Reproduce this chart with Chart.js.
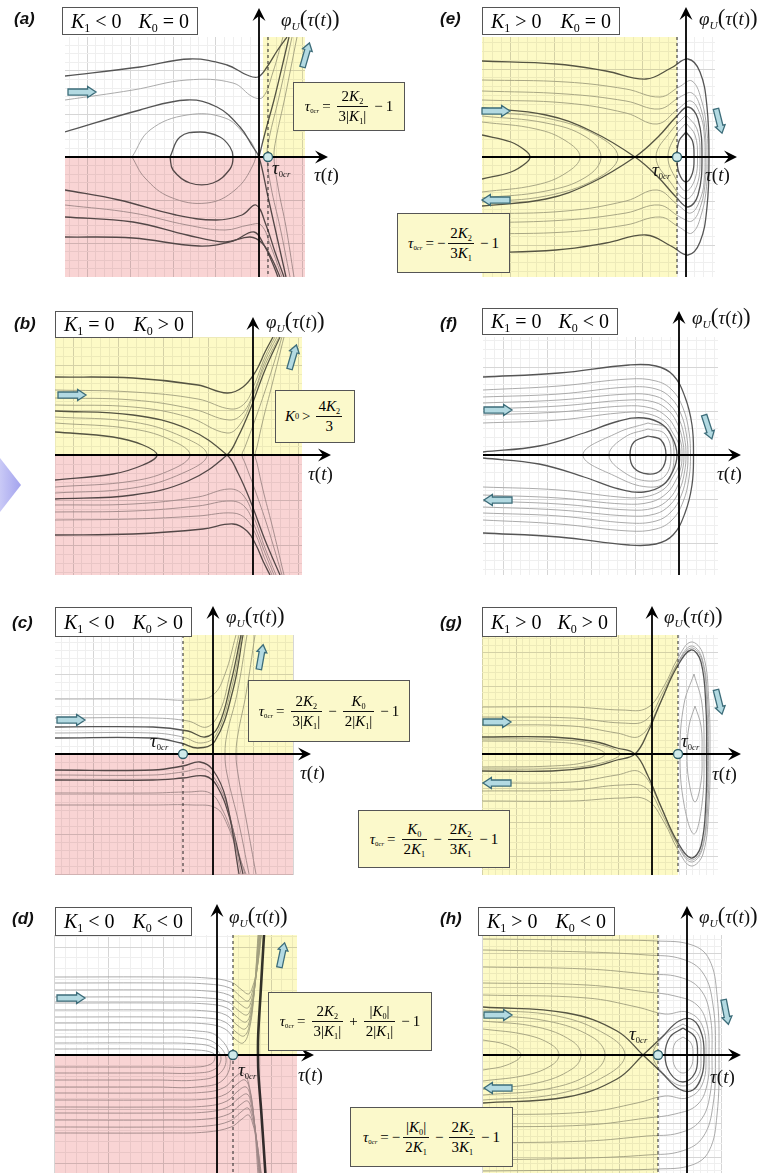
<!DOCTYPE html>
<html>
<head>
<meta charset="utf-8">
<script src="https://cdn.jsdelivr.net/npm/chart.js@4.4.1/dist/chart.umd.min.js"></script>
<style>
body { margin: 0; background: #fff; }
#page { position: relative; width: 777px; height: 1173px; overflow: hidden; }
canvas { position: absolute; left: 0; top: 0; }
.t { position: absolute; white-space: nowrap; font-family: "Liberation Serif", "DejaVu Serif", serif; color: #111; }
.let { position: absolute; font: bold italic 17px "Liberation Sans", Arial, sans-serif; color: #111; }
.cond { position: absolute; box-sizing: border-box; border: 1.5px solid #555; background: #fff;
  font: 20px "Liberation Serif", serif; display: flex; align-items: center; justify-content: space-between; padding: 0 8px; }
.fbox { position: absolute; box-sizing: border-box; border: 1.5px solid #555; background: #fbf9cb;
  font: 15px "Liberation Serif", serif; display: flex; align-items: center; justify-content: center; white-space: nowrap; }
sub { font-size: 0.6em; vertical-align: -0.35em; line-height: 0; }
.fbox sub { font-size: 0.55em; }
.tc sub { font-size: 0.45em; }
.fr { display: inline-flex; flex-direction: column; vertical-align: middle; text-align: center; margin: 0 3px; }
.fr > span { padding: 0 2px; line-height: 19px; }
.fr > span + span { border-top: 1px solid #111; }
.op { margin: 0 3px; }
.bp { font-size: 1.2em; }
.tri { position: absolute; left: 0; top: 458px; width: 21px; height: 54px;
  clip-path: polygon(0 0, 100% 50%, 0 100%); background: linear-gradient(to right, #c9c9f6, #a3a3ee); }
</style>
</head>
<body>
<div id="page">
<canvas id="ca" width="777" height="1173"></canvas>
<canvas id="ce" width="777" height="1173"></canvas>
<canvas id="cb" width="777" height="1173"></canvas>
<canvas id="cf" width="777" height="1173"></canvas>
<canvas id="cc" width="777" height="1173"></canvas>
<canvas id="cg" width="777" height="1173"></canvas>
<canvas id="cd" width="777" height="1173"></canvas>
<canvas id="ch" width="777" height="1173"></canvas>

<div class="tri"></div>

<!-- (a) -->
<div class="let" style="left:14px;top:9px">(a)</div>
<div class="cond" style="left:62px;top:7px;width:136px;height:28px"><span><i>K</i><sub>1</sub> &lt; 0</span><span><i>K</i><sub>0</sub> = 0</span></div>
<div class="t" style="left:281px;top:6px;font-size:19px"><i>φ</i><sub><i>U</i></sub><span class="bp">(</span><i>τ</i>(<i>t</i>)<span class="bp">)</span></div>
<div class="t" style="left:314px;top:164px;font-size:19px"><i>τ</i>(<i>t</i>)</div>
<div class="t tc" style="left:272px;top:157px;font-size:19px"><i>τ</i><sub>0<i>cr</i></sub></div>
<div class="fbox" style="left:293px;top:82px;width:112px;height:49px"><span class="tc"><i>τ</i><sub>0<i>cr</i></sub></span><span class="op">=</span><span class="fr"><span>2<i>K</i><sub>2</sub></span><span>3|<i>K</i><sub>1</sub>|</span></span><span class="op">−</span>1</div>

<!-- (e) -->
<div class="let" style="left:440px;top:9px">(e)</div>
<div class="cond" style="left:482px;top:7px;width:138px;height:28px"><span><i>K</i><sub>1</sub> &gt; 0</span><span><i>K</i><sub>0</sub> = 0</span></div>
<div class="t" style="left:699px;top:5px;font-size:19px"><i>φ</i><sub><i>U</i></sub><span class="bp">(</span><i>τ</i>(<i>t</i>)<span class="bp">)</span></div>
<div class="t" style="left:705px;top:164px;font-size:19px"><i>τ</i>(<i>t</i>)</div>
<div class="t tc" style="left:652px;top:159px;font-size:19px"><i>τ</i><sub>0<i>cr</i></sub></div>
<div class="fbox" style="left:397px;top:213px;width:113px;height:60px"><span class="tc"><i>τ</i><sub>0<i>cr</i></sub></span><span class="op">=</span>−<span class="fr"><span>2<i>K</i><sub>2</sub></span><span>3<i>K</i><sub>1</sub></span></span><span class="op">−</span>1</div>

<!-- (b) -->
<div class="let" style="left:14px;top:314px">(b)</div>
<div class="cond" style="left:55px;top:311px;width:138px;height:27px"><span><i>K</i><sub>1</sub> = 0</span><span><i>K</i><sub>0</sub> &gt; 0</span></div>
<div class="t" style="left:266px;top:308px;font-size:19px"><i>φ</i><sub><i>U</i></sub><span class="bp">(</span><i>τ</i>(<i>t</i>)<span class="bp">)</span></div>
<div class="t" style="left:308px;top:463px;font-size:19px"><i>τ</i>(<i>t</i>)</div>
<div class="fbox" style="left:275px;top:390px;width:80px;height:53px"><i>K</i><sub>0</sub><span class="op">&gt;</span><span class="fr"><span>4<i>K</i><sub>2</sub></span><span>3</span></span></div>

<!-- (f) -->
<div class="let" style="left:440px;top:314px">(f)</div>
<div class="cond" style="left:482px;top:308px;width:136px;height:27px"><span><i>K</i><sub>1</sub> = 0</span><span><i>K</i><sub>0</sub> &lt; 0</span></div>
<div class="t" style="left:692px;top:304px;font-size:19px"><i>φ</i><sub><i>U</i></sub><span class="bp">(</span><i>τ</i>(<i>t</i>)<span class="bp">)</span></div>
<div class="t" style="left:717px;top:463px;font-size:19px"><i>τ</i>(<i>t</i>)</div>

<!-- (c) -->
<div class="let" style="left:12px;top:613px">(c)</div>
<div class="cond" style="left:55px;top:607px;width:137px;height:30px"><span><i>K</i><sub>1</sub> &lt; 0</span><span><i>K</i><sub>0</sub> &gt; 0</span></div>
<div class="t" style="left:226px;top:603px;font-size:19px"><i>φ</i><sub><i>U</i></sub><span class="bp">(</span><i>τ</i>(<i>t</i>)<span class="bp">)</span></div>
<div class="t" style="left:300px;top:762px;font-size:19px"><i>τ</i>(<i>t</i>)</div>
<div class="t tc" style="left:150px;top:730px;font-size:19px"><i>τ</i><sub>0<i>cr</i></sub></div>
<div class="fbox" style="left:248px;top:680px;width:162px;height:62px"><span class="tc"><i>τ</i><sub>0<i>cr</i></sub></span><span class="op">=</span><span class="fr"><span>2<i>K</i><sub>2</sub></span><span>3|<i>K</i><sub>1</sub>|</span></span><span class="op">−</span><span class="fr"><span><i>K</i><sub>0</sub></span><span>2|<i>K</i><sub>1</sub>|</span></span><span class="op">−</span>1</div>

<!-- (g) -->
<div class="let" style="left:440px;top:613px">(g)</div>
<div class="cond" style="left:482px;top:607px;width:135px;height:30px"><span><i>K</i><sub>1</sub> &gt; 0</span><span><i>K</i><sub>0</sub> &gt; 0</span></div>
<div class="t" style="left:664px;top:603px;font-size:19px"><i>φ</i><sub><i>U</i></sub><span class="bp">(</span><i>τ</i>(<i>t</i>)<span class="bp">)</span></div>
<div class="t" style="left:712px;top:763px;font-size:19px"><i>τ</i>(<i>t</i>)</div>
<div class="t tc" style="left:681px;top:730px;font-size:19px"><i>τ</i><sub>0<i>cr</i></sub></div>
<div class="fbox" style="left:358px;top:810px;width:152px;height:58px"><span class="tc"><i>τ</i><sub>0<i>cr</i></sub></span><span class="op">=</span><span class="fr"><span><i>K</i><sub>0</sub></span><span>2<i>K</i><sub>1</sub></span></span><span class="op">−</span><span class="fr"><span>2<i>K</i><sub>2</sub></span><span>3<i>K</i><sub>1</sub></span></span><span class="op">−</span>1</div>

<!-- (d) -->
<div class="let" style="left:12px;top:909px">(d)</div>
<div class="cond" style="left:55px;top:907px;width:137px;height:29px"><span><i>K</i><sub>1</sub> &lt; 0</span><span><i>K</i><sub>0</sub> &lt; 0</span></div>
<div class="t" style="left:229px;top:903px;font-size:19px"><i>φ</i><sub><i>U</i></sub><span class="bp">(</span><i>τ</i>(<i>t</i>)<span class="bp">)</span></div>
<div class="t" style="left:298px;top:1064px;font-size:19px"><i>τ</i>(<i>t</i>)</div>
<div class="t tc" style="left:238px;top:1059px;font-size:19px"><i>τ</i><sub>0<i>cr</i></sub></div>
<div class="fbox" style="left:268px;top:992px;width:164px;height:59px"><span class="tc"><i>τ</i><sub>0<i>cr</i></sub></span><span class="op">=</span><span class="fr"><span>2<i>K</i><sub>2</sub></span><span>3|<i>K</i><sub>1</sub>|</span></span><span class="op">+</span><span class="fr"><span>|<i>K</i><sub>0</sub>|</span><span>2|<i>K</i><sub>1</sub>|</span></span><span class="op">−</span>1</div>

<!-- (h) -->
<div class="let" style="left:440px;top:909px">(h)</div>
<div class="cond" style="left:478px;top:907px;width:137px;height:29px"><span><i>K</i><sub>1</sub> &gt; 0</span><span><i>K</i><sub>0</sub> &lt; 0</span></div>
<div class="t" style="left:699px;top:903px;font-size:19px"><i>φ</i><sub><i>U</i></sub><span class="bp">(</span><i>τ</i>(<i>t</i>)<span class="bp">)</span></div>
<div class="t" style="left:710px;top:1066px;font-size:19px"><i>τ</i>(<i>t</i>)</div>
<div class="t tc" style="left:629px;top:1023px;font-size:19px"><i>τ</i><sub>0<i>cr</i></sub></div>
<div class="fbox" style="left:350px;top:1107px;width:163px;height:60px"><span class="tc"><i>τ</i><sub>0<i>cr</i></sub></span><span class="op">=</span>−<span class="fr"><span>|<i>K</i><sub>0</sub>|</span><span>2<i>K</i><sub>1</sub></span></span><span class="op">−</span><span class="fr"><span>2<i>K</i><sub>2</sub></span><span>3<i>K</i><sub>1</sub></span></span><span class="op">−</span>1</div>
</div>

<script>
// trajectories, [tau, phi] in each panel's own units (origin = axes crossing)

// (a) K1<0, K0=0
const curvesA = [
  [[-19.4,8.1],[-11.9,9.0],[-6.9,9.8],[-3.2,9.2],[-1.2,8.2],[-0.1,8.0],[0.8,9.0],[1.8,10.6],[2.8,12.0]],
  [[-19.4,5.7],[-12.6,6.7],[-7.2,7.7],[-2.6,7.4],[-0.6,6.0],[0.4,6.0],[1.4,8.5],[2.4,12.0]],
  [[-19.4,2.5],[-11.9,4.7],[-7.2,5.7],[-4.2,5.0],[-1.9,3.0],[-0.6,1.0],[0,0],[0.9,-4.0],[1.8,-8.0],[2.7,-12]],
  [[0,0],[0.6,2.4],[1.5,5.7],[2.3,9.0],[3.0,12.0]],
  [[-8.9,0],[-7.9,2.0],[-5.9,2.5],[-3.9,2.0],[-2.9,1.0],[-2.6,0],[-2.9,-1.2],[-4.6,-2.6],[-6.9,-2.6],[-8.6,-1.3],[-8.9,0]],
  [[-12.7,0],[-10.9,2.7],[-7.2,4.2],[-3.4,3.9],[-1.4,2.2],[-0.4,0.7],[-0.6,-0.8],[-2.4,-3.3],[-5.2,-4.6],[-8.9,-4.0],[-11.4,-2.1],[-12.7,0]],
  [[-19.4,-3.3],[-14,-4.3],[-8.3,-5.8],[-4.3,-6.3],[-1.7,-5.8],[-0.3,-4.8],[0.7,-6.8],[1.6,-9.5],[2.5,-12.0]],
  [[-19.4,-4.8],[-12.6,-5.6],[-7.2,-6.8],[-3.4,-7.3],[-1.0,-6.8],[0.2,-6.8],[1.2,-9.0],[2.3,-12]],
  [[-19.4,-6.0],[-12.6,-6.5],[-7.2,-7.8],[-3.4,-8.5],[-0.9,-8.0],[0.3,-8.6],[1.3,-10.2],[2.1,-12]],
  [[-19.4,-8.0],[-12.6,-8.1],[-6,-8.9],[-2.6,-8.4],[-0.5,-7.5],[0.5,-8.8],[1.3,-10.5],[1.9,-12]],
  [[3.3,12],[2.0,6],[1.0,1.8],[0.8,0],[1.2,-3],[2.1,-7],[3.1,-12]],
  [[3.8,12],[2.6,6],[1.7,1.8],[1.5,0],[1.9,-3],[2.7,-7],[3.5,-12]]
];

// (e) K1>0, K0=0
const curvesE = [
  [[-20.4,9.6],[-13,9.3],[-8,8.6],[-4,7.8],[-1.5,8.9],[0.2,9.8],[1.4,8.5],[2.1,5],[2.3,0],[2.1,-5],[1.4,-8.5],[0.2,-9.8],[-1.5,-8.9],[-4,-7.8],[-8,-8.6],[-13,-9.3],[-20.4,-9.6]],
  [[-20.4,7.7],[-12,7.5],[-6,6.8],[-2.6,6.0],[-0.7,7.0],[0.6,7.6],[1.6,5.5],[2.1,2.5],[2.2,0],[2.1,-2.5],[1.6,-5.5],[0.6,-7.6],[-0.7,-7.0],[-2.6,-6.0],[-6,-6.8],[-12,-7.5],[-20.4,-7.7]],
  [[-20.4,6.6],[-12,6.3],[-6,5.6],[-2.7,4.8],[-0.6,6.0],[0.6,6.4],[1.5,4.8],[1.95,2.2],[2.0,0],[1.95,-2.2],[1.5,-4.8],[0.6,-6.4],[-0.6,-6.0],[-2.7,-4.8],[-6,-5.6],[-12,-6.3],[-20.4,-6.6]],
  [[-20.4,5.7],[-12,5.4],[-6,4.4],[-2.9,3.3],[-0.8,4.8],[0.5,5.6],[1.5,4.0],[1.85,2],[1.9,0],[1.85,-2],[1.5,-4.0],[0.5,-5.6],[-0.8,-4.8],[-2.9,-3.3],[-6,-4.4],[-12,-5.4],[-20.4,-5.7]],
  [[-20.4,4.9],[-14,4.2],[-9.5,2.6],[-5.1,0],[-2.8,-2.0],[-1,-4.0],[0.2,-5.0],[1.2,-3.8],[1.6,0],[1.2,3.8],[0.2,5.0],[-1,4.0],[-2.8,2.0],[-5.1,0],[-9.5,-2.6],[-14,-4.2],[-20.4,-4.9]],
  [[-20.4,2.2],[-17.5,1.5],[-16,0.6],[-15.6,0],[-16,-0.6],[-17.5,-1.5],[-20.4,-2.2]],
  [[-20.4,3.5],[-15,2.8],[-12,1.6],[-10.6,0],[-12,-1.6],[-15,-2.8],[-20.4,-3.5]],
  [[-20.4,4.1],[-14,3.4],[-10,2.0],[-8.5,0],[-10,-2.0],[-14,-3.4],[-20.4,-4.1]],
  [[-20.4,4.5],[-14,3.9],[-9,2.2],[-6.8,0],[-9,-2.2],[-14,-3.9],[-20.4,-4.5]],
  [[0,2.5],[0.65,1.6],[0.8,0],[0.65,-1.6],[0,-2.5],[-0.7,-1.6],[-0.9,0],[-0.7,1.6],[0,2.5]],
  [[0,3.4],[0.9,2.2],[1.15,0],[0.9,-2.2],[0,-3.4],[-1.0,-2.2],[-1.8,0],[-1.0,2.2],[0,3.4]],
  [[0,4.2],[1.1,2.8],[1.4,0],[1.1,-2.8],[0,-4.2],[-1.5,-2.6],[-3.0,0],[-1.5,2.6],[0,4.2]]
];

// (b) K1=0, K0>0
const curvesB = [
  [[-19.8,7.8],[-12,7.7],[-5.5,7.0],[-2.6,6.2],[-1.0,6.8],[0.3,8.4],[1.2,10.3],[2.0,11.8]],
  [[-19.8,6.5],[-12,6.3],[-5.5,5.6],[-2.2,4.6],[-0.8,5.2],[0.2,7.2],[1.2,9.8],[2.2,11.8]],
  [[-19.8,5.7],[-12,5.5],[-6,4.6],[-2.4,3.5],[-1.0,4.2],[0.2,6.6],[1.2,9.4],[2.4,11.8]],
  [[-19.8,5.0],[-12,4.8],[-6.5,3.8],[-2.6,2.2],[-1.2,3.2],[0,5.9],[1.2,9.0],[2.6,11.8]],
  [[-19.8,4.4],[-12,4.0],[-6.5,2.6],[-2.6,0],[-1.5,-1.8],[-0.3,-4.5],[1.2,-8.5],[2.7,-12]],
  [[-19.8,-4.4],[-12,-4.0],[-6.5,-2.6],[-2.6,0],[-1.5,1.8],[-0.3,4.5],[1.2,8.5],[2.7,11.8]],
  [[-19.8,2.3],[-14,1.8],[-11,1.0],[-9.6,0],[-11,-1.0],[-14,-1.9],[-19.8,-2.5]],
  [[-19.8,3.2],[-12,2.6],[-8,1.4],[-6.3,0],[-8,-1.4],[-12,-2.6],[-19.8,-3.2]],
  [[-19.8,3.8],[-12,3.3],[-7,1.8],[-4.6,0],[-7,-1.8],[-12,-3.3],[-19.8,-3.8]],
  [[-19.8,-5.0],[-12,-4.9],[-5.5,-4.2],[-2.4,-3.4],[-1.0,-4.0],[0.2,-6.5],[1.2,-9.3],[2.3,-12]],
  [[-19.8,-5.7],[-12,-5.6],[-5.5,-5.1],[-2.2,-4.6],[-0.8,-5.2],[0.2,-7.2],[1.2,-9.8],[2.1,-12]],
  [[-19.8,-6.5],[-12,-6.4],[-5.5,-6.1],[-2,-5.8],[-0.7,-6.4],[0.3,-8.0],[1.1,-10.2],[1.9,-12]],
  [[-19.8,-8.0],[-12,-7.9],[-5,-7.4],[-2,-6.9],[-0.6,-7.6],[0.3,-9.0],[1.0,-10.6],[1.7,-12]],
  [[2.9,11.8],[1.4,7],[0.2,3.5],[-0.8,0.8],[-1.1,0],[-0.8,-0.8],[0.2,-3.5],[1.4,-7],[2.9,-12]],
  [[3.1,11.8],[1.9,7],[1.0,3.5],[0.4,0.8],[0.2,0],[0.4,-0.8],[1.0,-3.5],[1.9,-7],[3.1,-12]]
];

// (f) K1=0, K0<0
const curvesF = [
  [[-19.6,7.8],[-12,8.2],[-5,9.0],[-2.3,8.9],[-0.6,8.0],[0.6,5.8],[1.3,3.0],[1.45,0],[1.3,-3.0],[0.6,-5.8],[-0.6,-8.0],[-2.3,-8.9],[-5,-9.0],[-12,-8.2],[-19.6,-7.8]],
  [[-19.6,6.5],[-12,6.9],[-5,7.6],[-2.3,7.4],[-0.7,6.5],[0.4,4.7],[1.0,2.3],[1.15,0],[1.0,-2.3],[0.4,-4.7],[-0.7,-6.5],[-2.3,-7.4],[-5,-7.6],[-12,-6.9],[-19.6,-6.5]],
  [[-19.6,5.8],[-12,6.1],[-5,6.8],[-2.3,6.6],[-0.8,5.7],[0.2,4.1],[0.75,2.0],[0.9,0],[0.75,-2.0],[0.2,-4.1],[-0.8,-5.7],[-2.3,-6.6],[-5,-6.8],[-12,-6.1],[-19.6,-5.8]],
  [[-19.6,5.2],[-12,5.5],[-5,6.1],[-2.4,5.9],[-0.9,5.0],[0.05,3.5],[0.55,1.7],[0.7,0],[0.55,-1.7],[0.05,-3.5],[-0.9,-5.0],[-2.4,-5.9],[-5,-6.1],[-12,-5.5],[-19.6,-5.2]],
  [[-19.6,4.6],[-12,4.9],[-5,5.5],[-2.5,5.3],[-1.0,4.4],[-0.1,3.0],[0.35,1.5],[0.5,0],[0.35,-1.5],[-0.1,-3.0],[-1.0,-4.4],[-2.5,-5.3],[-5,-5.5],[-12,-4.9],[-19.6,-4.6]],
  [[-19.6,4.0],[-12,4.3],[-5.5,4.9],[-2.8,4.7],[-1.2,3.8],[-0.3,2.5],[0.2,1.2],[0.3,0],[0.2,-1.2],[-0.3,-2.5],[-1.2,-3.8],[-2.8,-4.7],[-5.5,-4.9],[-12,-4.3],[-19.6,-4.0]],
  [[-19.6,3.2],[-12,3.5],[-6,4.2],[-3.5,4.2],[-1.5,3.4],[-0.5,2.0],[0.0,1.0],[0.1,0],[0.0,-1.0],[-0.5,-2.0],[-1.5,-3.4],[-3.5,-4.2],[-6,-4.2],[-12,-3.5],[-19.6,-3.2]],
  [[-19.6,0.3],[-14,0.9],[-9.5,2.2],[-6,3.4],[-3.5,3.7],[-1.6,3.0],[-0.6,1.6],[-0.2,0],[-0.6,-1.6],[-1.6,-3.0],[-3.5,-3.7],[-6,-3.4],[-9.5,-2.2],[-14,-0.9],[-19.6,-0.3]],
  [[-3.1,1.9],[-1.8,1.5],[-1.3,0],[-1.8,-1.5],[-3.1,-1.9],[-4.5,-1.3],[-4.9,0],[-4.5,1.3],[-3.1,1.9]],
  [[-3.1,2.6],[-1.4,2.1],[-0.8,0],[-1.4,-2.1],[-3.1,-2.6],[-5.4,-1.8],[-7.0,0],[-5.4,1.8],[-3.1,2.6]],
  [[-3.1,3.2],[-1.2,2.6],[-0.5,0],[-1.2,-2.6],[-3.1,-3.2],[-6.2,-2.2],[-9.6,0],[-6.2,2.2],[-3.1,3.2]]
];

// (c) K1<0, K0>0
const curvesC = [
  [[-15.8,5.5],[-6,5.5],[-2,5.4],[0,5.9],[1.2,8.0],[2.3,11.9]],
  [[-15.8,3.6],[-6,3.6],[-2.5,3.3],[-0.6,2.7],[0.7,4.3],[1.7,8.0],[2.6,11.9]],
  [[-15.8,2.7],[-6,2.7],[-2.5,2.3],[-0.8,1.7],[0.5,2.7],[1.8,7.2],[2.8,11.9]],
  [[-15.8,2.1],[-6,2.1],[-3,1.7],[-1.2,1.1],[0.3,1.9],[1.9,6.8],[2.9,11.9]],
  [[-15.8,1.6],[-6,1.6],[-3.2,1.1],[-1.5,0.6],[0.2,1.3],[2.0,6.4],[3.0,11.9]],
  [[-15.8,-1.6],[-6,-1.6],[-3,-1.2],[-1.3,-0.8],[0,-1.6],[1.3,-4.5],[2.6,-12]],
  [[-15.8,-2.1],[-6,-2.1],[-3,-1.8],[-1.0,-1.5],[0.2,-2.5],[1.5,-5.5],[2.8,-12]],
  [[-15.8,-2.6],[-6,-2.6],[-3,-2.4],[-0.8,-2.2],[0.4,-3.2],[1.7,-6.5],[3.0,-12]],
  [[-15.8,-3.9],[-6,-3.9],[-2.5,-3.8],[-0.3,-3.9],[0.9,-5.5],[2.1,-8.5],[3.2,-12]],
  [[-15.8,-5.1],[-6,-5.1],[-2,-5.1],[0.3,-5.4],[1.4,-7],[2.5,-10],[3.3,-12]],
  [[3.4,11.9],[2.4,6],[1.4,2],[1.2,0],[1.4,-2],[2.6,-7],[3.6,-12]],
  [[4.2,11.9],[3.3,6],[2.5,2],[2.3,0],[2.5,-2],[3.4,-7],[4.3,-12]]
];

// (g) K1>0, K0>0
const curvesG = [
  [[-17,1.7],[-10,1.7],[-6,1.3],[-3.5,0.6],[-1.7,0],[-0.4,-2.2],[1.0,-5.5],[2.5,-8.7],[3.9,-10.4],[4.9,-9.2],[5.4,-4.5],[5.45,0],[5.4,4.5],[4.9,9.2],[3.9,10.4],[2.5,8.7],[1.0,5.5],[-0.4,2.2],[-1.7,0],[-3.5,-0.6],[-6,-1.3],[-10,-1.7],[-17,-1.7]],
  [[-17,4.7],[-8,4.7],[-3,4.4],[-0.5,4.6],[1.2,6.8],[2.6,9.6],[3.9,11.2],[5.1,10],[5.7,5],[5.8,0],[5.7,-5],[5.1,-10],[3.9,-11.2],[2.6,-9.6],[1.2,-6.8],[-0.5,-4.6],[-3,-4.4],[-8,-4.7],[-17,-4.7]],
  [[-17,3.7],[-8,3.6],[-3,3.1],[-0.6,3.4],[1.1,6.2],[2.6,9.2],[3.9,10.8],[5.0,9.6],[5.6,4.8],[5.65,0],[5.6,-4.8],[5.0,-9.6],[3.9,-10.8],[2.6,-9.2],[1.1,-6.2],[-0.6,-3.4],[-3,-3.1],[-8,-3.6],[-17,-3.7]],
  [[-17,2.9],[-8,2.8],[-3.5,2.1],[-1.2,1.8],[0.6,4.6],[2.5,8.9],[3.9,10.6],[5.0,9.4],[5.5,4.6],[5.55,0],[5.5,-4.6],[5.0,-9.4],[3.9,-10.6],[2.5,-8.9],[0.6,-4.6],[-1.2,-1.8],[-3.5,-2.1],[-8,-2.8],[-17,-2.9]],
  [[-17,1.3],[-10,1.2],[-6.5,0.8],[-4.7,0],[-6.5,-0.8],[-10,-1.2],[-17,-1.3]],
  [[-17,1.5],[-10,1.45],[-5.5,1.0],[-3.2,0],[-5.5,-1.0],[-10,-1.45],[-17,-1.5]],
  [[4.3,4.8],[4.9,2.8],[5.0,0],[4.9,-2.8],[4.3,-4.8],[3.7,-2.8],[3.5,0],[3.7,2.8],[4.3,4.8]],
  [[4.2,8.0],[5.0,5],[5.2,0],[5.0,-5],[4.2,-8.0],[3.2,-5],[2.8,0],[3.2,5],[4.2,8.0]]
];

// (d) K1<0, K0<0
const curvesD = [
  [[-16.2,0.6],[-6,0.6],[-2,0.5],[-0.4,0.2],[-0.2,-0.3],[-0.6,-0.9],[-2,-1.2],[-6,-1.2],[-16.2,-1.2]],
  [[-16.2,1.2],[-6,1.2],[-2,1.1],[-0.3,0.7],[0.4,-0.3],[-0.2,-1.4],[-2,-1.8],[-6,-1.8],[-16.2,-1.8]],
  [[-16.2,1.8],[-6,1.8],[-2,1.7],[-0.2,1.2],[0.9,-0.3],[0.2,-1.9],[-2,-2.5],[-6,-2.5],[-16.2,-2.5]],
  [[-16.2,2.5],[-6,2.5],[-2,2.4],[0,1.9],[1.3,-0.2],[0.6,-2.5],[-2,-3.2],[-6,-3.2],[-16.2,-3.2]],
  [[-16.2,3.2],[-5,3.2],[-1,3.1],[0.8,2.6],[1.8,1.6],[2.6,1.2],[3.2,2.4],[3.7,6],[4.1,12]],
  [[-16.2,3.8],[-5,3.8],[-1,3.7],[0.8,3.3],[1.9,2.3],[2.7,1.9],[3.25,3.0],[3.7,6.3],[4.15,12]],
  [[-16.2,4.5],[-5,4.5],[-1,4.4],[0.9,4.0],[2.0,3.0],[2.8,2.6],[3.3,3.6],[3.75,6.6],[4.2,12]],
  [[-16.2,5.2],[-5,5.2],[-1,5.1],[1.0,4.7],[2.1,3.7],[2.9,3.3],[3.35,4.2],[3.8,7],[4.25,12]],
  [[-16.2,5.8],[-5,5.8],[-1,5.7],[1.1,5.3],[2.2,4.4],[3.0,4.0],[3.4,4.8],[3.85,7.4],[4.3,12]],
  [[-16.2,6.5],[-5,6.5],[-1,6.4],[1.2,6.0],[2.3,5.1],[3.05,4.7],[3.45,5.5],[3.9,7.8],[4.35,12]],
  [[-16.2,7.2],[-5,7.2],[-1,7.1],[1.3,6.7],[2.4,5.8],[3.1,5.4],[3.5,6.2],[3.95,8.2],[4.4,12]],
  [[-16.2,7.8],[-5,7.8],[-1,7.7],[1.4,7.3],[2.5,6.5],[3.15,6.1],[3.55,6.8],[4.0,8.6],[4.45,12]],
  [[-16.2,-3.8],[-5,-3.8],[-1,-3.7],[0.8,-3.2],[1.8,-2.2],[2.6,-1.8],[3.2,-3.0],[3.7,-6.5],[4.1,-12]],
  [[-16.2,-4.5],[-5,-4.5],[-1,-4.4],[0.9,-3.9],[2.0,-2.9],[2.8,-2.5],[3.3,-3.6],[3.75,-6.8],[4.2,-12]],
  [[-16.2,-5.2],[-5,-5.2],[-1,-5.1],[1.0,-4.6],[2.1,-3.6],[2.9,-3.2],[3.35,-4.2],[3.8,-7.2],[4.25,-12]],
  [[-16.2,-5.8],[-5,-5.8],[-1,-5.7],[1.1,-5.2],[2.2,-4.3],[3.0,-3.9],[3.4,-4.8],[3.85,-7.6],[4.3,-12]],
  [[-16.2,-6.5],[-5,-6.5],[-1,-6.4],[1.2,-5.9],[2.3,-5.0],[3.05,-4.6],[3.45,-5.5],[3.9,-8],[4.35,-12]],
  [[-16.2,-7.2],[-5,-7.2],[-1,-7.1],[1.3,-6.6],[2.4,-5.7],[3.1,-5.3],[3.5,-6.2],[3.95,-8.4],[4.4,-12]],
  [[-16.2,-7.8],[-5,-7.8],[-1,-7.7],[1.4,-7.2],[2.5,-6.4],[3.15,-6.0],[3.55,-6.8],[4.0,-8.8],[4.45,-12]],
  [[4.7,12],[4.35,6],[4.12,2],[4.1,0],[4.15,-2],[4.45,-6],[4.85,-12]]
];

// (h) K1>0, K0<0
const curvesH = [
  [[-20.4,11.6],[-10,11.5],[-3,11.4],[0.5,11.0],[2.2,9.6],[3.0,6],[3.2,0],[3.0,-6],[2.2,-9.6],[0.5,-11.0],[-3,-11.4],[-10,-11.5],[-20.4,-11.6]],
  [[-20.4,10.5],[-10,10.3],[-4,10.0],[-0.5,9.6],[1.6,8.2],[2.6,5],[2.85,0],[2.6,-5],[1.6,-8.2],[-0.5,-9.6],[-4,-10.0],[-10,-10.3],[-20.4,-10.5]],
  [[-20.4,8.8],[-10,8.6],[-4,8.1],[-0.8,7.8],[1.3,6.6],[2.3,4],[2.5,0],[2.3,-4],[1.3,-6.6],[-0.8,-7.8],[-4,-8.1],[-10,-8.6],[-20.4,-8.8]],
  [[-20.4,7.2],[-10,7.0],[-4,6.3],[-1.2,5.9],[1.0,5.0],[2.0,3],[2.2,0],[2.0,-3],[1.0,-5.0],[-1.2,-5.9],[-4,-6.3],[-10,-7.0],[-20.4,-7.2]],
  [[-20.4,6.0],[-10,5.7],[-5,4.8],[-2.2,4.1],[0.0,4.3],[1.5,3.0],[1.9,0],[1.5,-3.0],[0.0,-4.3],[-2.2,-4.1],[-5,-4.8],[-10,-5.7],[-20.4,-6.0]],
  [[-20.4,4.8],[-12,4.2],[-7,2.4],[-4.4,0],[-2.5,-1.8],[-0.8,-3.4],[0.6,-3.5],[1.5,-2],[1.7,0],[1.5,2],[0.6,3.5],[-0.8,3.4],[-2.5,1.8],[-4.4,0],[-7,-2.4],[-12,-4.2],[-20.4,-4.8]],
  [[-20.4,1.5],[-18,1.0],[-16.6,0],[-18,-1.0],[-20.4,-1.5]],
  [[-20.4,2.6],[-16,2.0],[-13.5,1.0],[-12.8,0],[-13.5,-1.0],[-16,-2.0],[-20.4,-2.6]],
  [[-20.4,3.4],[-15,2.8],[-11.5,1.4],[-10.6,0],[-11.5,-1.4],[-15,-2.8],[-20.4,-3.4]],
  [[-20.4,4.0],[-14,3.4],[-9.5,1.8],[-8.2,0],[-9.5,-1.8],[-14,-3.4],[-20.4,-4.0]],
  [[-20.4,4.5],[-13,3.9],[-8,2.0],[-6.2,0],[-8,-2.0],[-13,-3.9],[-20.4,-4.5]],
  [[-0.4,1.8],[0.4,1.2],[0.6,0],[0.4,-1.2],[-0.4,-1.8],[-1.2,-1.2],[-1.4,0],[-1.2,1.2],[-0.4,1.8]],
  [[-0.4,2.7],[0.8,1.8],[1.05,0],[0.8,-1.8],[-0.4,-2.7],[-1.7,-1.8],[-2.2,0],[-1.7,1.8],[-0.4,2.7]],
  [[-0.4,3.1],[1.1,2.1],[1.4,0],[1.1,-2.1],[-0.4,-3.1],[-2.2,-2.0],[-3.4,0],[-2.2,2.0],[-0.4,3.1]]
];

// critical point tau_0cr on the tau axis (null = none)
const tauCr = { a: 0.9, e: -0.9, b: null, f: null, c: -3.0, g: 2.6, d: 1.6, h: -2.9 };

// direction arrows: [tau, phi, angle in degrees]
const flowA = [[-17.7,6.5,0],[4.7,10.2,-74]];
const flowE = [[-19.0,4.6,0],[-19.0,-4.3,180],[3.3,3.6,76]];
const flowB = [[-18.1,6.0,0],[4.0,9.8,-74]];
const flowF = [[-18.1,4.5,0],[-18.1,-4.5,180],[2.9,2.8,72]];
const flowC = [[-14.2,3.4,0],[4.8,9.7,-80]];
const flowG = [[-15.5,3.2,0],[-15.5,-2.9,180],[6.7,5.2,76]];
const flowD = [[-14.6,5.7,0],[6.5,10.0,-78]];
const flowH = [[-18.9,4.0,0],[-18.9,-3.3,180],[3.9,4.3,79]];

// ---- styles / layout ----
const YEL = 'rgb(253,250,198)', PNK = 'rgb(249,212,212)';
const panels = [
  { id: 'a', curves: curvesA, flow: flowA, dark: [0,2,3,4,6,8,9], bold: [], ox: 259, oy: 157, rect: [65,37,305,277], step: 0.86, xTip: 328, yTip: 8,
    fills: [[0.4,null,0,null,YEL],[null,null,null,0,PNK]] },
  { id: 'e', curves: curvesE, flow: flowE, dark: [0,4,5,9], bold: [], ox: 686, oy: 157, rect: [482,37,715,277], step: 0.88, xTip: 737, yTip: 7,
    fills: [[null,-0.9,null,null,YEL]] },
  { id: 'b', curves: curvesB, flow: flowB, dark: [0,4,5,6,12], bold: [], ox: 253, oy: 455, rect: [55,337,302,575], step: 0.9, xTip: 331, yTip: 317,
    fills: [[null,null,0,null,YEL],[null,null,null,0,PNK]] },
  { id: 'f', curves: curvesF, flow: flowF, dark: [0,7,8], bold: [], ox: 679, oy: 455, rect: [483,337,718,575], step: 0.88, xTip: 741, yTip: 311,
    fills: [] },
  { id: 'c', curves: curvesC, flow: flowC, dark: [2,4,5,7], bold: [], ox: 213, oy: 754, rect: [55,635,293,875], step: 0.8, xTip: 311, yTip: 606,
    fills: [[-3.0,null,0,null,YEL],[null,null,null,0,PNK]] },
  { id: 'g', curves: curvesG, flow: flowG, dark: [0], bold: [], ox: 652, oy: 754, rect: [482,635,718,875], step: 0.68, xTip: 741, yTip: 606,
    fills: [[null,2.6,null,null,YEL]] },
  { id: 'd', curves: curvesD, flow: flowD, dark: [], bold: [19], ox: 217, oy: 1055, rect: [55,935,297,1173], step: 1.08, xTip: 314, yTip: 904,
    fills: [[1.6,null,0,null,YEL],[null,null,null,0,PNK]] },
  { id: 'h', curves: curvesH, flow: flowH, dark: [5,12], bold: [], ox: 687, oy: 1055, rect: [483,935,722,1173], step: 0.68, xTip: 741, yTip: 906,
    fills: [[null,-2.9,null,null,YEL]] }
];

function blockArrow(ctx, px, py, deg, vertical) {
  const len = vertical ? 25 : 28, half = vertical ? 5 : 5.5;
  ctx.save();
  ctx.translate(px, py);
  ctx.rotate(deg * Math.PI / 180);
  const L = len / 2, hl = len * 0.3, bh = half * 0.55;
  ctx.beginPath();
  ctx.moveTo(-L, -bh); ctx.lineTo(L - hl, -bh); ctx.lineTo(L - hl, -half); ctx.lineTo(L, 0);
  ctx.lineTo(L - hl, half); ctx.lineTo(L - hl, bh); ctx.lineTo(-L, bh); ctx.closePath();
  ctx.fillStyle = '#b3dae2'; ctx.fill();
  ctx.strokeStyle = '#3c6c79'; ctx.lineWidth = 1.3; ctx.stroke();
  ctx.restore();
}

function axisHead(ctx, x, y, ang) {
  ctx.save();
  ctx.translate(x, y); ctx.rotate(ang);
  ctx.beginPath();
  ctx.moveTo(0, 0); ctx.lineTo(-13, -6.5); ctx.lineTo(-8, 0); ctx.lineTo(-13, 6.5); ctx.closePath();
  ctx.fillStyle = '#000'; ctx.fill();
  ctx.restore();
}

function makePlugin(p) {
  return {
    id: 'deco' + p.id,
    afterDatasetsDraw(chart) {
      const { ctx, chartArea: ca, scales: { x, y } } = chart;
      ctx.save();
      ctx.globalCompositeOperation = 'multiply';
      p.fills.forEach(f => {
        const x0 = f[0] === null ? ca.left : x.getPixelForValue(f[0]);
        const x1 = f[1] === null ? ca.right : x.getPixelForValue(f[1]);
        const y0 = f[2] === null ? ca.bottom : y.getPixelForValue(f[2]);
        const y1 = f[3] === null ? ca.top : y.getPixelForValue(f[3]);
        ctx.fillStyle = f[4];
        ctx.fillRect(x0, y1, x1 - x0, y0 - y1);
      });
      ctx.restore();
    },
    afterDraw(chart) {
      const { ctx, chartArea: ca, scales: { x, y } } = chart;
      const X0 = x.getPixelForValue(0), Y0 = y.getPixelForValue(0);
      const cr = tauCr[p.id];
      ctx.save();
      if (cr !== null) {
        const xc = x.getPixelForValue(cr);
        ctx.setLineDash([3, 3]);
        ctx.strokeStyle = '#222'; ctx.lineWidth = 1;
        ctx.beginPath(); ctx.moveTo(xc, ca.top); ctx.lineTo(xc, ca.bottom); ctx.stroke();
        ctx.setLineDash([]);
      }
      ctx.strokeStyle = '#000'; ctx.lineWidth = 1.8;
      ctx.beginPath();
      ctx.moveTo(ca.left, Y0); ctx.lineTo(p.xTip - 6, Y0);
      ctx.moveTo(X0, ca.bottom); ctx.lineTo(X0, p.yTip + 6);
      ctx.stroke();
      axisHead(ctx, p.xTip, Y0, 0);
      axisHead(ctx, X0, p.yTip, -Math.PI / 2);
      if (cr !== null) {
        ctx.beginPath();
        ctx.arc(x.getPixelForValue(cr), Y0, 4.5, 0, Math.PI * 2);
        ctx.fillStyle = '#cfeaea'; ctx.fill();
        ctx.strokeStyle = '#2d5d68'; ctx.lineWidth = 1.3; ctx.stroke();
      }
      p.flow.forEach(([fx, fy, ang]) => {
        const vertical = Math.abs(Math.abs(ang) - 90) < 30;
        blockArrow(ctx, x.getPixelForValue(fx), y.getPixelForValue(fy), ang, vertical);
      });
      ctx.restore();
    }
  };
}

function gridAxis(p, lo, hi) {
  return {
    type: 'linear', min: lo, max: hi,
    afterBuildTicks(scale) {
      const t = [];
      for (let k = Math.ceil(lo / p.step - 1e-6); k * p.step <= hi + 1e-6; k++) t.push({ value: k * p.step, mj: k % 5 === 0 });
      scale.ticks = t;
    },
    ticks: { display: false },
    grid: { drawTicks: false, lineWidth: 1, color: c => (c.tick && c.tick.mj) ? '#d6d6d6' : '#efefef' },
    border: { display: false }
  };
}

panels.forEach(p => {
  const [l, t, r, b] = p.rect;
  const xmin = (l - p.ox) / 10, xmax = (r - p.ox) / 10;
  const ymin = (p.oy - b) / 10, ymax = (p.oy - t) / 10;
  const datasets = p.curves.map((c, i) => {
    const bold = p.bold.includes(i), dark = p.dark.includes(i);
    return {
      data: c.map(([x, y]) => ({ x, y })),
      showLine: true, pointRadius: 0, tension: 0.4, fill: false,
      borderColor: bold ? '#333' : dark ? '#555' : '#a2a2a2',
      borderWidth: bold ? 2.6 : dark ? 1.3 : 0.9
    };
  });
  new Chart(document.getElementById('c' + p.id), {
    type: 'scatter',
    data: { datasets },
    options: {
      responsive: false,
      animation: false,
      events: [],
      layout: { padding: { left: l, top: t, right: 777 - r, bottom: 1173 - b } },
      plugins: { legend: { display: false }, tooltip: { enabled: false } },
      scales: { x: gridAxis(p, xmin, xmax), y: gridAxis(p, ymin, ymax) }
    },
    plugins: [makePlugin(p)]
  });
});
</script>
</body>
</html>
